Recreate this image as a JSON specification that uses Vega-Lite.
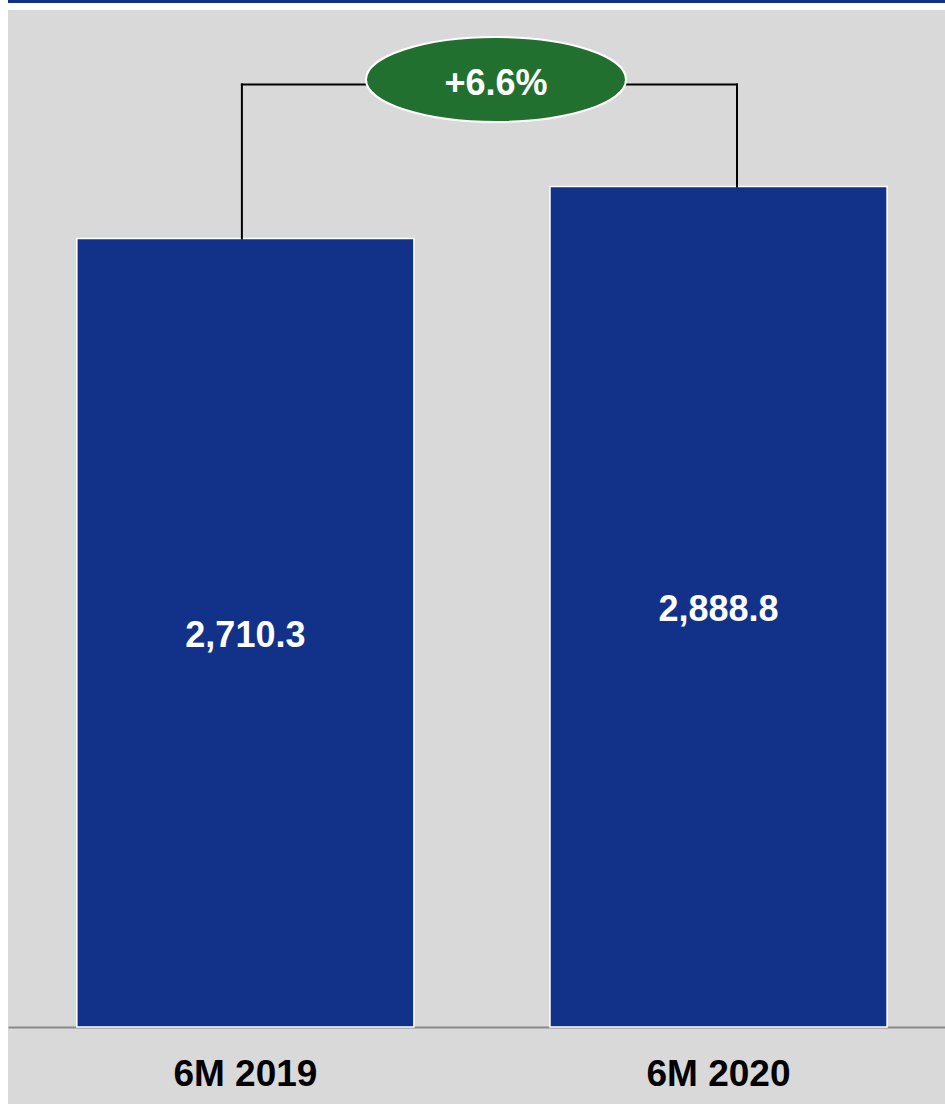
{
  "$schema": "https://vega.github.io/schema/vega-lite/v6.json",
  "width": 937,
  "height": 1094,
  "autosize": {"type": "none"},
  "padding": {"left": 8, "top": 10, "right": 0, "bottom": 0},
  "background": "#ffffff",
  "config": {
    "view": {"fill": "#d9d9d9", "stroke": null},
    "font": "Liberation Sans"
  },
  "datasets": {
    "bars": [
      {"period": "6M 2019", "value": 2710.3},
      {"period": "6M 2020", "value": 2888.8}
    ],
    "change": [{"label": "+6.6%"}]
  },
  "layer": [
    {
      "layer": [
        {
          "data": {"name": "bars"},
          "mark": {"type": "bar", "color": "#12328a", "stroke": "#ffffff", "strokeWidth": 1.5},
          "encoding": {
            "x": {
              "field": "period", "type": "nominal", "sort": null,
              "scale": {"paddingInner": 0.2875, "paddingOuter": 0.134, "align": 0.543},
              "axis": {
                "title": null, "orient": "bottom", "offset": -77,
                "ticks": false, "labelPadding": 29, "labelAngle": 0,
                "labelFont": "Liberation Sans", "labelFontSize": 37, "labelFontWeight": "bold",
                "labelColor": "#000000", "domainColor": "#8a8a8a", "domainWidth": 2, "grid": false
              }
            },
            "y": {"field": "value", "type": "quantitative", "scale": {"domain": [-264.7, 3495.7], "nice": false, "zero": false}, "axis": null},
            "y2": {"datum": 0}
          }
        },
        {
          "data": {"name": "bars"},
          "transform": [{"filter": "datum.period === '6M 2019'"}],
          "mark": {"type": "rule", "color": "#000000", "strokeWidth": 2, "strokeCap": "square", "xOffset": -3.5},
          "encoding": {
            "x": {"field": "period", "type": "nominal", "sort": null},
            "y": {"field": "value", "type": "quantitative"},
            "y2": {"datum": 3239.6}
          }
        },
        {
          "data": {"name": "bars"},
          "transform": [{"filter": "datum.period === '6M 2020'"}],
          "mark": {"type": "rule", "color": "#000000", "strokeWidth": 2, "strokeCap": "square", "xOffset": 18.5},
          "encoding": {
            "x": {"field": "period", "type": "nominal", "sort": null},
            "y": {"field": "value", "type": "quantitative"},
            "y2": {"datum": 3239.6}
          }
        },
        {
          "data": {"name": "change"},
          "mark": {"type": "rule", "color": "#000000", "strokeWidth": 2, "strokeCap": "square", "xOffset": -3.5, "x2Offset": 18.5},
          "encoding": {
            "x": {"datum": "6M 2019"},
            "x2": {"datum": "6M 2020"},
            "y": {"datum": 3239.6}
          }
        },
        {
          "data": {"name": "change"},
          "mark": {"type": "rule", "color": "#12328a", "strokeWidth": 3, "yOffset": -8.5},
          "encoding": {"y": {"datum": 3495.7}}
        },
        {
          "data": {"name": "change"},
          "mark": {
            "type": "point",
            "shape": "M-1,0A1,0.327,0,1,1,1,0A1,0.327,0,1,1,-1,0Z",
            "size": 67600, "filled": true, "fill": "#217030", "opacity": 1,
            "stroke": "#ffffff", "strokeWidth": 2, "xOffset": 19.5
          },
          "encoding": {"y": {"datum": 3256.8}}
        },
        {
          "data": {"name": "change"},
          "mark": {
            "type": "text", "font": "Liberation Sans", "fontSize": 36, "fontWeight": "bold",
            "color": "#ffffff", "baseline": "middle", "align": "center", "xOffset": 19.5, "yOffset": 4
          },
          "encoding": {"y": {"datum": 3256.8}, "text": {"field": "label"}}
        }
      ]
    },
    {
      "data": {"name": "bars"},
      "mark": {
        "type": "text", "font": "Liberation Sans", "fontSize": 36, "fontWeight": "bold",
        "color": "#ffffff", "baseline": "middle", "align": "center", "yOffset": 3
      },
      "encoding": {
        "x": {"field": "period", "type": "nominal", "sort": null},
        "y": {"field": "value", "type": "quantitative", "scale": {"domain": [-529.4, 6991.4], "nice": false, "zero": false}, "axis": null},
        "text": {"field": "value", "type": "quantitative", "format": ",.1f"}
      }
    }
  ],
  "resolve": {"scale": {"y": "independent"}}
}
